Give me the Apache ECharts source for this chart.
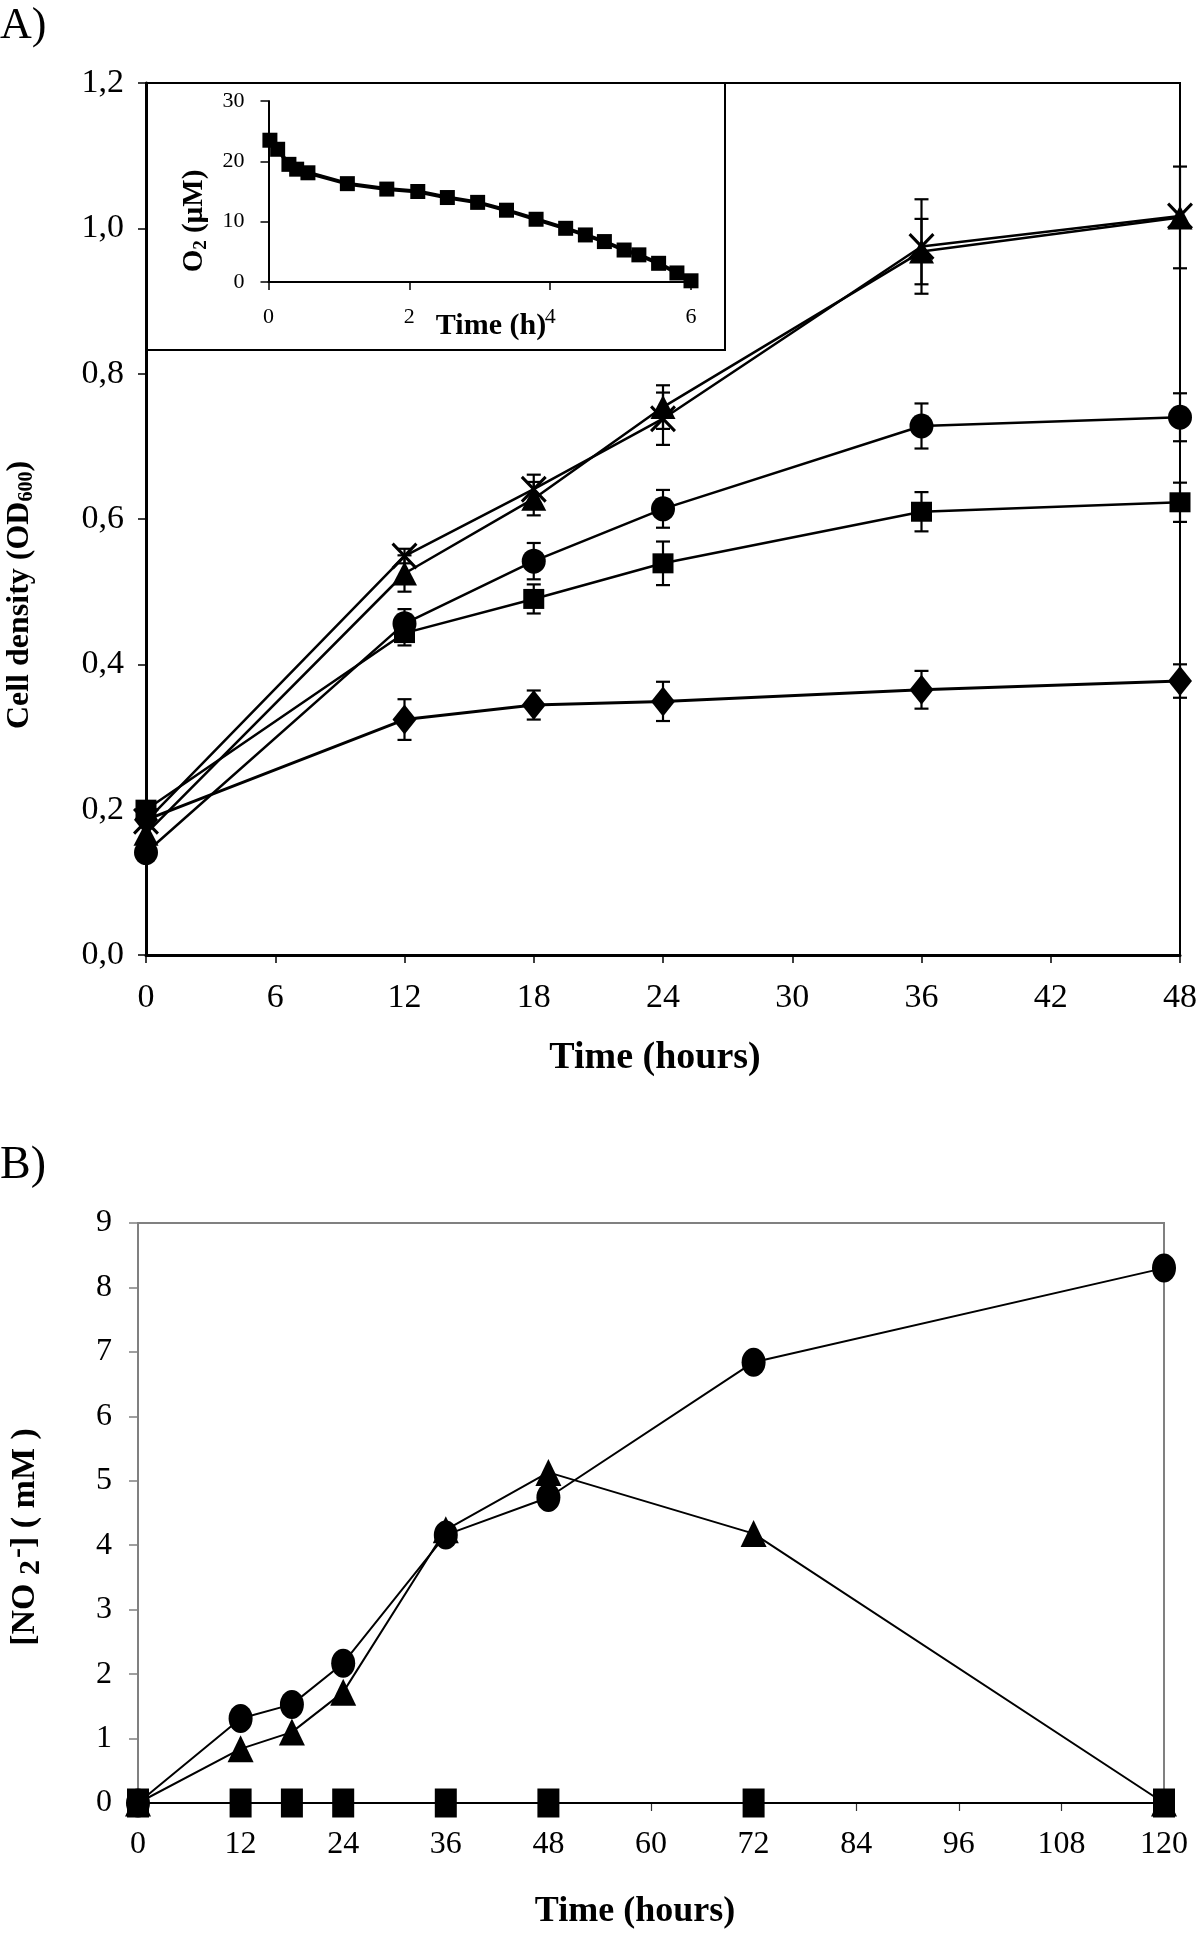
<!DOCTYPE html>
<html>
<head>
<meta charset="utf-8">
<script src="https://cdn.jsdelivr.net/npm/echarts@6/dist/echarts.min.js"></script>
<style>html,body{margin:0;padding:0;background:#fff}#c{width:1200px;height:1936px}</style>
</head>
<body>
<div id="c"></div>
<script>
// ---------- Panel A: cell density (OD600) ----------
const hoursA = [0, 12, 18, 24, 36, 48];
const odDiamond  = [0.186, 0.324, 0.344, 0.349, 0.365, 0.377];
const errDiamond = [0, 0.028, 0.020, 0.027, 0.026, 0.023];
const odSquare   = [0.200, 0.443, 0.490, 0.539, 0.610, 0.623];
const errSquare  = [0, 0.017, 0.020, 0.030, 0.027, 0.027];
const odCircle   = [0.141, 0.456, 0.542, 0.614, 0.728, 0.740];
const errCircle  = [0, 0.020, 0.025, 0.026, 0.031, 0.033];
const odTriangle = [0.167, 0.525, 0.628, 0.754, 0.968, 1.015];
const errTriangle= [0, 0.025, 0.023, 0.030, 0.045, 0.070];
const odCross    = [0.184, 0.549, 0.641, 0.738, 0.975, 1.017];
const errCross   = [0, 0.010, 0.020, 0.036, 0.065, 0];

// ---------- Inset: O2 (µM) over first hours ----------
const insetHours = [0.02, 0.13, 0.29, 0.40, 0.56, 1.12, 1.68, 2.12, 2.54, 2.97, 3.38, 3.80, 4.22, 4.50, 4.77, 5.05, 5.26, 5.54, 5.80, 6.00];
const insetO2    = [23.5, 22.0, 19.5, 18.7, 18.1, 16.3, 15.4, 15.0, 14.0, 13.2, 11.9, 10.4, 8.9, 7.8, 6.7, 5.3, 4.5, 3.1, 1.5, 0.2];

// ---------- Panel B: nitrite (mM) ----------
const hoursB = [0, 12, 18, 24, 36, 48, 72, 120];
const no2Circle   = [0, 1.31, 1.53, 2.17, 4.16, 4.74, 6.84, 8.30];
const no2Triangle = [0, 0.84, 1.10, 1.72, 4.24, 5.13, 4.18, 0];
const no2Square   = [0, 0, 0, 0, 0, 0, 0, 0];

// tick label settings
const ticksA_x = {min: 0, max: 48, interval: 6};
const ticksA_y = {min: 0, max: 1.2, interval: 0.2};
const ticksIn_x = {min: 0, max: 6, interval: 2};
const ticksIn_y = {min: 0, max: 30, interval: 10};
const ticksB_x = {min: 0, max: 120, interval: 12};
const ticksB_y = {min: 0, max: 9, interval: 1};

const SERIF = '"Liberation Serif", "Times New Roman", serif';
const crossPath = 'path://M0,2 L2,0 L12,10 L22,0 L24,2 L14,12 L24,22 L22,24 L12,14 L2,24 L0,22 L10,12 Z';

function pairs(xs, ys) { return xs.map((x, i) => [x, ys[i]]); }
function triples(xs, ys, es) { return xs.map((x, i) => [x, ys[i], es[i]]); }

function lineSeries(xi, yi, xs, ys, symbol, size, lw) {
  return {
    type: 'line', xAxisIndex: xi, yAxisIndex: yi, data: pairs(xs, ys),
    symbol: symbol, symbolSize: size, showAllSymbol: true, animation: false,
    lineStyle: {color: '#000', width: lw}, itemStyle: {color: '#000', borderWidth: 0},
    z: 5, clip: false
  };
}
function errSeries(xs, ys, es) {
  return {
    type: 'custom', xAxisIndex: 0, yAxisIndex: 0, data: triples(xs, ys, es),
    encode: {x: 0, y: 1}, z: 3, animation: false, clip: false,
    renderItem: function (params, api) {
      const x = api.value(0), y = api.value(1), e = api.value(2);
      if (!e) return null;
      const t = api.coord([x, y + e]), b = api.coord([x, y - e]);
      const w = 7, st = {stroke: '#000', lineWidth: 2.2};
      return {type: 'group', children: [
        {type: 'line', shape: {x1: t[0], y1: t[1], x2: b[0], y2: b[1]}, style: st},
        {type: 'line', shape: {x1: t[0] - w, y1: t[1], x2: t[0] + w, y2: t[1]}, style: st},
        {type: 'line', shape: {x1: b[0] - w, y1: b[1], x2: b[0] + w, y2: b[1]}, style: st}
      ]};
    }
  };
}

const chart = echarts.init(document.getElementById('c'), null, {renderer: 'canvas', width: 1200, height: 1936});

const option = {
  backgroundColor: '#fff',
  animation: false,
  grid: [
    {left: 146, top: 83, width: 1036, height: 872, show: true, borderColor: '#000', borderWidth: 2, backgroundColor: 'transparent'},
    {left: 268.5, top: 101, width: 422.5, height: 181},
    {left: 138, top: 1223, width: 1026, height: 580, show: true, borderColor: '#808080', borderWidth: 2, backgroundColor: 'transparent'}
  ],
  xAxis: [
    Object.assign({gridIndex: 0, type: 'value',
      axisLine: {onZero: false, lineStyle: {color: '#000', width: 3}},
      axisTick: {length: 8, lineStyle: {color: '#000', width: 1.5}},
      axisLabel: {fontFamily: SERIF, fontSize: 34, color: '#000', margin: 26},
      splitLine: {show: false}}, ticksA_x),
    Object.assign({gridIndex: 1, type: 'value',
      axisLine: {onZero: false, lineStyle: {color: '#000', width: 2}},
      axisTick: {length: 8, lineStyle: {color: '#000', width: 1.5}},
      axisLabel: {fontFamily: SERIF, fontSize: 22, color: '#000', margin: 24},
      splitLine: {show: false}}, ticksIn_x),
    Object.assign({gridIndex: 2, type: 'value',
      axisLine: {onZero: false, lineStyle: {color: '#000', width: 2}},
      axisTick: {length: 8, lineStyle: {color: '#333', width: 1.2}},
      axisLabel: {fontFamily: SERIF, fontSize: 32, color: '#000', margin: 26},
      splitLine: {show: false}}, ticksB_x)
  ],
  yAxis: [
    Object.assign({gridIndex: 0, type: 'value',
      axisLine: {show: true, onZero: false, lineStyle: {color: '#000', width: 3}},
      axisTick: {show: true, length: 8, lineStyle: {color: '#000', width: 1.5}},
      axisLabel: {fontFamily: SERIF, fontSize: 34, color: '#000', margin: 22,
        formatter: v => v.toFixed(1).replace('.', ',')},
      splitLine: {show: false}}, ticksA_y),
    Object.assign({gridIndex: 1, type: 'value',
      axisLine: {show: true, onZero: false, lineStyle: {color: '#000', width: 2}},
      axisTick: {show: true, length: 8, lineStyle: {color: '#000', width: 1.5}},
      axisLabel: {fontFamily: SERIF, fontSize: 22, color: '#000', margin: 24},
      splitLine: {show: false}}, ticksIn_y),
    Object.assign({gridIndex: 2, type: 'value',
      axisLine: {show: true, onZero: false, lineStyle: {color: '#808080', width: 1.5}},
      axisTick: {show: true, length: 9, lineStyle: {color: '#808080', width: 1.5}},
      axisLabel: {fontFamily: SERIF, fontSize: 32, color: '#000', margin: 26},
      splitLine: {show: false}}, ticksB_y)
  ],
  series: [
    errSeries(hoursA, odDiamond, errDiamond),
    errSeries(hoursA, odSquare, errSquare),
    errSeries(hoursA, odCircle, errCircle),
    errSeries(hoursA, odTriangle, errTriangle),
    errSeries(hoursA, odCross, errCross),
    lineSeries(0, 0, hoursA, odDiamond, 'diamond', [24, 30], 3),
    lineSeries(0, 0, hoursA, odSquare, 'rect', [21, 20], 2.5),
    lineSeries(0, 0, hoursA, odCircle, 'circle', [24, 25], 2.5),
    lineSeries(0, 0, hoursA, odTriangle, 'triangle', [25, 24], 2.5),
    lineSeries(0, 0, hoursA, odCross, crossPath, [26, 27], 2.5),
    lineSeries(1, 1, insetHours, insetO2, 'rect', [15, 15], 4),
    lineSeries(2, 2, hoursB, no2Square, 'rect', [22, 29], 2),
    lineSeries(2, 2, hoursB, no2Triangle, 'triangle', [26, 27], 2),
    lineSeries(2, 2, hoursB, no2Circle, 'circle', [24, 29], 2)
  ],
  graphic: [
    {type: 'rect', shape: {x: 146, y: 83, width: 579, height: 267}, style: {fill: 'none', stroke: '#000', lineWidth: 2}, z: 10},
    {type: 'text', x: 0, y: 26, style: {text: 'A)', font: '44px ' + SERIF, fill: '#000', textAlign: 'left', textVerticalAlign: 'middle'}},
    {type: 'text', x: 0, y: 1166, style: {text: 'B)', font: '46px ' + SERIF, fill: '#000', textAlign: 'left', textVerticalAlign: 'middle'}},
    {type: 'text', x: 655, y: 1058, style: {text: 'Time (hours)', font: 'bold 38px ' + SERIF, fill: '#000', textAlign: 'center', textVerticalAlign: 'middle'}},
    {type: 'text', x: 635, y: 1912, style: {text: 'Time (hours)', font: 'bold 36px ' + SERIF, fill: '#000', textAlign: 'center', textVerticalAlign: 'middle'}},
    {type: 'text', x: 491, y: 326, style: {text: 'Time (h)', font: 'bold 30px ' + SERIF, fill: '#000', textAlign: 'center', textVerticalAlign: 'middle'}, z: 11},
    {type: 'text', x: 20, y: 595, rotation: Math.PI / 2,
      style: {text: 'Cell density (OD{sub|600})', fill: '#000', textAlign: 'center', textVerticalAlign: 'middle',
        fontFamily: SERIF, fontWeight: 'bold', fontSize: 32,
        rich: {sub: {fontFamily: SERIF, fontWeight: 'bold', fontSize: 20, padding: [14, 0, 0, 0]}}}},
    {type: 'text', x: 195, y: 221, rotation: Math.PI / 2,
      style: {text: 'O{sub|2} (µM)', fill: '#000', textAlign: 'center', textVerticalAlign: 'middle',
        fontFamily: SERIF, fontWeight: 'bold', fontSize: 29,
        rich: {sub: {fontFamily: SERIF, fontWeight: 'bold', fontSize: 19, padding: [12, 0, 0, 0]}}}, z: 11},
    {type: 'text', x: 25, y: 1537, rotation: Math.PI / 2,
      style: {text: '[NO {sub|2}{sup|-}] ( mM )', fill: '#000', textAlign: 'center', textVerticalAlign: 'middle',
        fontFamily: SERIF, fontWeight: 'bold', fontSize: 34,
        rich: {
          sub: {fontFamily: SERIF, fontWeight: 'bold', fontSize: 30, padding: [12, 0, 0, 0]},
          sup: {fontFamily: SERIF, fontWeight: 'bold', fontSize: 30, padding: [0, 0, 14, 2]}
        }}}
  ]
};
chart.setOption(option);
</script>
</body>
</html>
